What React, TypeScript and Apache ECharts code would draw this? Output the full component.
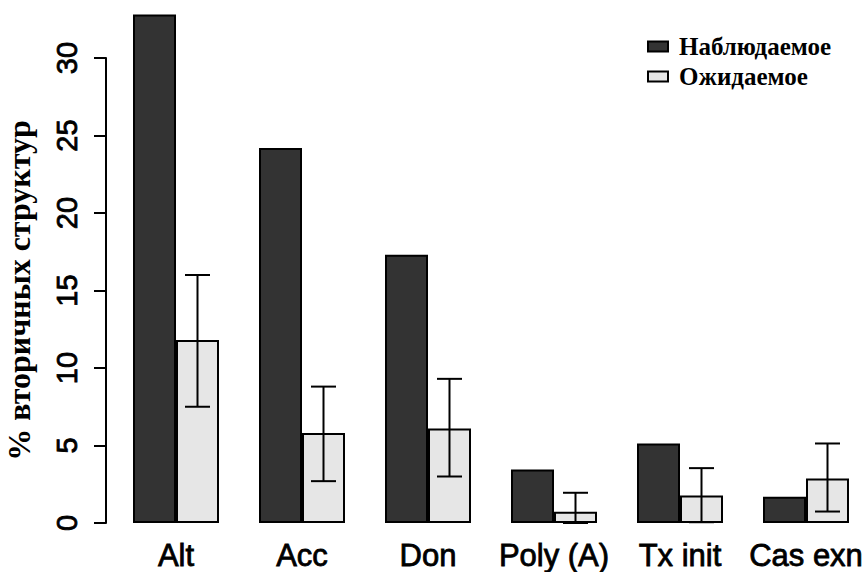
import React, { useEffect, useRef } from "react";
import * as echarts from "echarts";

const categories = ["Alt", "Acc", "Don", "Poly (A)", "Tx init", "Cas exn"];
const observed = [32.8, 24.2, 17.3, 3.45, 5.13, 1.69];
const expected = [11.8, 5.8, 6.1, 0.72, 1.77, 2.87];
const errLow = [7.5, 2.7, 3.0, 0, 0.05, 0.74];
const errHigh = [16.0, 8.8, 9.3, 1.95, 3.54, 5.13];
const yTicks = [0, 5, 10, 15, 20, 25, 30];
const seriesNames = ["Наблюдаемое", "Ожидаемое"];

const BAR_W = 43;

export default function App() {
  const ref = useRef<HTMLDivElement>(null);
  useEffect(() => {
    if (!ref.current) return;
    const chart = echarts.init(ref.current, undefined, { renderer: "svg" });
    const errData = categories.map((_, i) => [i, errLow[i], errHigh[i]]);
    chart.setOption({
      animation: false,
      backgroundColor: "#ffffff",
      legend: {
        orient: "vertical",
        left: 642,
        top: 29,
        itemWidth: 20,
        itemHeight: 10,
        itemGap: 5,
        icon: "rect",
        data: seriesNames,
        textStyle: {
          fontFamily: "Liberation Serif",
          fontWeight: "bold",
          fontSize: 25,
          color: "#000",
          padding: [0, 0, 0, 6],
        },
      },
      grid: { left: 113, top: 58, width: 756, bottom: 49, outerBoundsMode: "none" },
      xAxis: {
        type: "category",
        data: categories,
        axisLine: { show: false },
        axisTick: { show: false },
        axisLabel: {
          interval: 0,
          margin: 17,
          fontFamily: "Liberation Sans",
          fontSize: 31,
          color: "#000",
          textBorderColor: "#000",
          textBorderWidth: 0.8,
        },
      },
      yAxis: {
        type: "value",
        min: 0,
        max: 30,
        interval: 5,
        offset: 7,
        name: "% вторичных структур",
        nameLocation: "middle",
        nameGap: 71,
        nameRotate: 90,
        nameTextStyle: {
          fontFamily: "Liberation Serif",
          fontWeight: "bold",
          fontSize: 32,
          color: "#000",
        },
        splitLine: { show: false },
        axisLine: { show: true, lineStyle: { color: "#000", width: 2 } },
        axisTick: { show: true, length: 12, lineStyle: { color: "#000", width: 2 } },
        axisLabel: {
          rotate: 90,
          margin: 25,
          fontFamily: "Liberation Sans",
          fontSize: 29,
          color: "#000",
          textBorderColor: "#000",
          textBorderWidth: 0.8,
          formatter: (v: number) => (yTicks.includes(v) ? String(v) : ""),
        },
      },
      series: [
        {
          name: seriesNames[0],
          type: "bar",
          data: observed,
          barWidth: BAR_W,
          barGap: "0%",
          clip: false,
          itemStyle: { color: "#333333", borderColor: "#000", borderWidth: 2 },
        },
        {
          name: seriesNames[1],
          type: "bar",
          data: expected,
          barWidth: BAR_W,
          barGap: "0%",
          clip: false,
          itemStyle: { color: "#e6e6e6", borderColor: "#000", borderWidth: 2 },
        },
        {
          name: "err",
          type: "custom",
          data: errData,
          clip: false,
          z: 10,
          encode: { x: 0, y: [1, 2] },
          renderItem: (params: any, api: any) => {
            const idx = api.value(0);
            const lo = api.coord([idx, api.value(1)]);
            const hi = api.coord([idx, api.value(2)]);
            const x = lo[0] + BAR_W / 2;
            const cap = 12.5;
            const st = { stroke: "#000", lineWidth: 2 };
            return {
              type: "group",
              children: [
                { type: "line", shape: { x1: x, y1: lo[1], x2: x, y2: hi[1] }, style: st },
                { type: "line", shape: { x1: x - cap, y1: hi[1], x2: x + cap, y2: hi[1] }, style: st },
                { type: "line", shape: { x1: x - cap, y1: lo[1], x2: x + cap, y2: lo[1] }, style: st },
              ],
            };
          },
        },
      ],
    });
    return () => chart.dispose();
  }, []);
  return <div ref={ref} style={{ width: 862, height: 572, position: "absolute", left: 0, top: 0 }} />;
}
